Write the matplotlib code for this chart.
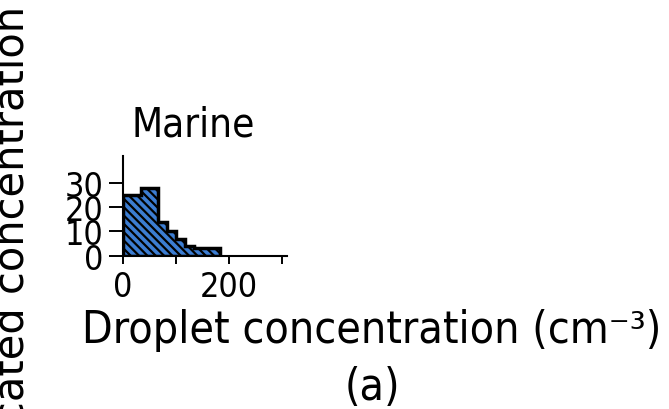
import matplotlib
matplotlib.use("Agg")
import matplotlib.pyplot as plt

# Histogram of droplet concentration, marine cases
bin_edges = [0, 16.7, 33.3, 50, 66.7, 83.3, 100, 116.7, 133.3, 150, 166.7, 183.3]
bin_values = [25, 25, 28, 28, 14, 10, 7, 4, 3, 3, 3]
x_ticks = [0, 100, 200, 300]
x_tick_labels = ["0", "", "200", ""]
y_ticks = [0, 10, 20, 30]
y_tick_labels = ["0", "10", "20", "30"]

panel_title = "Marine"
x_label = "Droplet concentration (cm\u207b\u00b3)\n(a)"
y_label = "cated concentration"

FONT = dict(family="DejaVu Sans", stretch="condensed")
plt.rcParams["hatch.linewidth"] = 1.6

fig = plt.figure(figsize=(6.69, 4.10), dpi=100)
W, H = 669, 410
ax = fig.add_axes([123 / W, (H - 256.5) / H, 164 / W, 99.5 / H])

centers = [(a + b) / 2 for a, b in zip(bin_edges[:-1], bin_edges[1:])]
ax.hist(centers, bins=bin_edges, weights=bin_values, histtype="stepfilled",
        facecolor="#3c7dd2", edgecolor="black", linewidth=2.5,
        hatch="\\\\\\\\", zorder=2)

ax.set_xlim(0, 310)
ax.set_ylim(0, 41)
for side in ("top", "right"):
    ax.spines[side].set_visible(False)
for side in ("left", "bottom"):
    ax.spines[side].set_linewidth(1.5)

ax.set_xticks(x_ticks)
ax.set_xticklabels(x_tick_labels, fontsize=24.5, **FONT)
ax.set_yticks(y_ticks)
ax.set_yticklabels(y_tick_labels, fontsize=24.5, **FONT)
ax.tick_params(axis="x", length=5.8, width=1.4, pad=4.3)
ax.tick_params(axis="y", length=9.9, width=1.4, pad=4.3)

ax.set_title(panel_title, fontsize=29, x=0.427, pad=15, **FONT)

fig.text(372 / W, 1 - 309 / H, x_label, ha="center", va="top",
         fontsize=32, linespacing=1.42, **FONT)
fig.text(-0.014, -0.035, y_label, rotation=90, ha="left", va="bottom",
         fontsize=30, family="DejaVu Sans")

fig.savefig("out.png", dpi=100)
